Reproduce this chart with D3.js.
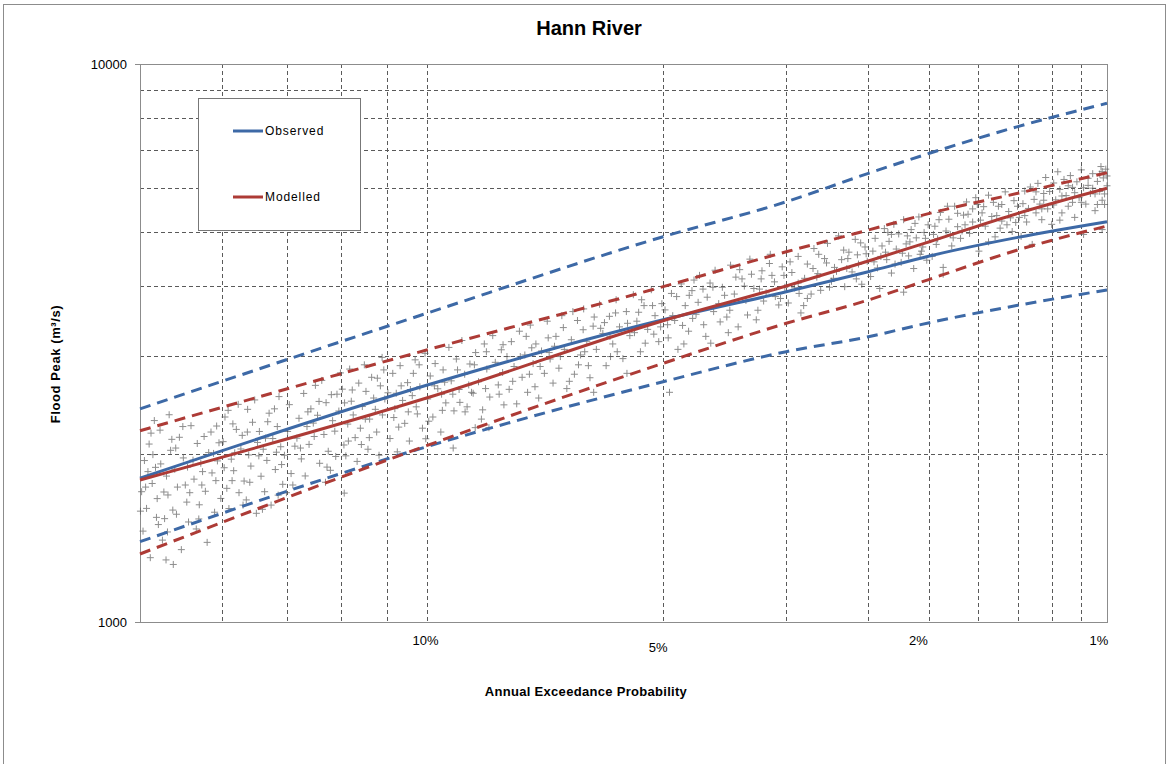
<!DOCTYPE html>
<html>
<head>
<meta charset="utf-8">
<script src="https://cdn.jsdelivr.net/npm/d3@7"></script>
<style>
body { margin: 0; background: #fff; }
svg text { font-family: "Liberation Sans", Arial, sans-serif; fill: #000; }
</style>
</head>
<body>
<svg id="chart" width="1168" height="764"></svg>
<script>
// curves are read at these average recurrence intervals (1 in N years)
var ariPts        = [5, 10, 20, 30, 40, 50, 70, 100];
var observed      = [1810, 2656, 3480, 3908, 4244, 4529, 4890, 5216];
var observedUpper = [2410, 3574, 4903, 5664, 6369, 6918, 7723, 8504];
var observedLower = [1393, 2061, 2695, 3051, 3245, 3439, 3694, 3936];
var modelled      = [1797, 2520, 3467, 4001, 4436, 4803, 5398, 5987];
var modelledUpper = [2202, 3072, 3990, 4608, 5040, 5399, 5866, 6383];
var modelledLower = [1324, 2070, 2908, 3430, 3776, 4113, 4642, 5125];

var gridAri   = [5, 6, 7, 8, 9, 10, 20, 30, 40, 50, 60, 70, 80, 90, 100];
var gridFlow  = [2000, 3000, 4000, 5000, 6000, 7000, 8000, 9000];
var aepTicks  = [10, 5, 2, 1];
var aepLabels = ["10%", "5%", "2%", "1%"];
var flowTicks = [1000, 10000];

// simulated peaks [AEP %, flow m3/s]
var scatter = [
 [19.93,1712],[19.61,2084],[19.87,1455],[19.34,1893],[19.72,1598],[19.15,2207],[19.48,1771],[18.96,1532],[19.81,1947],[19.27,1664],
 [18.71,2031],[19.05,1402],[18.88,1826],[19.56,1304],[18.43,1745],[19.39,2296],[18.62,1587],[18.19,1968],[18.82,1689],[18.35,2143],
 [17.98,1511],[18.54,1878],[17.76,1803],[18.27,1348],[17.63,2089],[18.05,1640],[17.49,1925],[17.88,2248],[17.31,1715],[17.67,1468],
 [17.18,2012],[17.42,1860],[16.95,1573],[17.09,2190],[16.84,1944],[17.55,1622],[19.66,1860],[19.22,1495],[18.77,2352],[18.11,1760],
 [17.24,1389],[16.9,1792],[19.98,1580],[19.45,1995],[18.99,1710],[18.5,2050],[17.8,1950],[17.05,1850],[16.78,2095],[18.6,1268],[18.9,1292],
 [16.62,2105],[16.48,1736],[16.55,2330],[16.31,1958],[16.4,1597],[16.12,2214],[16.22,1867],[15.95,2042],[16.05,2455],[15.83,1789],
 [15.9,2160],[15.66,1992],[15.75,1655],[15.52,2280],[15.58,1903],[15.34,2098],[15.44,2500],[15.21,1825],[15.27,2195],[15.08,1712],
 [15.13,2040],[14.92,2367],[15.0,1948],[14.79,2132],[14.85,1620],[14.63,2240],[14.7,1876],[14.51,2061],[14.57,2535],[14.38,1990],
 [14.44,1765],[16.58,1890],[16.02,1705],[15.38,1566],[14.97,2285],[14.6,1688],[16.25,2265],[15.7,2405],
 [14.27,2195],[14.15,1845],[14.21,2452],[14.02,2066],[14.09,1760],[13.88,2318],[13.95,2135],[13.72,2568],[13.8,1960],[13.61,2240],
 [13.67,1827],[13.48,2410],[13.54,2081],[13.33,2655],[13.4,2272],[13.19,1925],[13.26,2347],[13.05,2168],[13.12,2710],[12.91,2023],
 [12.98,2472],[12.77,2295],[12.84,1870],[12.63,2560],[12.7,2198],[12.52,2795],[12.57,2388],[12.41,2076],[12.46,2614],[12.29,2263],
 [12.35,1985],[12.18,2487],[12.23,2840],[12.06,2140],[12.12,2350],[11.95,2680],[12.0,1940],[11.84,2433],[11.9,2225],[11.73,2590],
 [11.78,2890],[11.62,2310],[11.67,2040],[11.5,2520],[11.56,2745],[11.41,2190],[11.45,2405],[11.3,2650],[11.34,1990],[11.2,2830],
 [11.24,2350],[12.4,1702],[13.0,1780],
 [11.08,2575],[11.02,2132],[10.94,2790],[10.88,2412],[10.81,2018],[10.73,2880],[10.66,2495],[10.6,2270],[10.52,2685],[10.47,2110],
 [10.39,2545],[10.31,2950],[10.25,2360],[10.18,2640],[10.11,2225],[10.04,3030],[9.97,2510],[9.9,2760],[9.83,2330],[9.77,2905],
 [9.7,2618],[9.62,2190],[9.56,2830],[9.49,2470],[9.41,3105],[9.35,2705],[9.28,2390],[9.22,2960],[9.15,2610],[9.08,3195],
 [9.01,2780],[8.95,2430],[8.88,2900],[8.8,2570],[8.74,3040],[8.67,2695],[8.6,2310],[8.53,3150],[8.47,2840],[8.4,2530],
 [8.33,3260],[8.27,2920],[8.2,2660],[8.13,3075],[8.07,2450],[8.0,2990],[10.7,2650],[10.2,2890],[9.6,2560],[9.0,2380],
 [8.5,2620],[8.1,2800],[9.3,2050],[10.5,2380],[8.75,2230],
 [7.95,2612],[7.9,3180],[7.84,2870],[7.78,2460],[7.72,3320],[7.66,2745],[7.6,3010],[7.54,2580],[7.48,3405],[7.42,2905],
 [7.36,3150],[7.3,2520],[7.24,3060],[7.18,2790],[7.12,3460],[7.06,2960],[7.0,2680],[6.94,3250],[6.88,2850],[6.82,3540],
 [6.77,3080],[6.72,2620],[7.5,2780],[7.1,3230],[6.85,2990],
 [6.63,3205],[6.57,2780],[6.51,3470],[6.45,3010],[6.39,3640],[6.33,3185],[6.27,2740],[6.21,3390],[6.15,3080],[6.09,3710],
 [6.03,3290],[5.97,2880],[5.91,3530],[5.85,3150],[5.79,3780],[5.73,3380],[5.67,2965],[5.61,3600],[5.55,3260],[5.49,3860],
 [5.43,3460],[5.37,3050],[5.31,3690],[5.25,3345],[5.19,3940],[5.13,3540],[5.07,3180],[5.02,3720],[6.2,2580],[5.6,2790],
 [6.4,3340],[5.9,3250],[5.4,3590],[5.15,3280],[6.0,3440],
 [4.97,3625],[4.92,3230],[4.87,3880],[4.82,3470],[4.77,3080],[4.72,4035],[4.66,3690],[4.61,3320],[4.56,3925],[4.5,3560],
 [4.45,4180],[4.39,3410],[4.34,3820],[4.29,3160],[4.23,4270],[4.18,3720],[4.13,3980],[4.07,3520],[4.02,4360],[3.97,3870],
 [3.92,3380],[3.87,4120],[3.82,3770],[3.77,4470],[3.72,3960],[3.67,3620],[3.62,4260],[3.57,3890],[3.52,4560],[3.47,4070],
 [3.42,3700],[3.38,4330],[3.35,3980],[4.9,2580],[4.85,3540],[4.6,3850],[4.4,3950],[4.25,3600],[4.1,3850],[3.95,4150],
 [3.8,3550],[3.65,3950],[3.5,4180],[3.4,3800],[4.7,3400],[4.05,3300],[3.75,4200],[4.55,3500],[4.3,4050],[3.6,3760],
 [3.31,3730],[3.27,4230],[3.24,3970],[3.2,4520],[3.17,3580],[3.13,4130],[3.1,4380],[3.06,3870],[3.03,4670],[2.99,4210],
 [2.96,3930],[2.92,4480],[2.89,4770],[2.85,4080],[2.82,4320],[2.78,4920],[2.75,4460],[2.72,3990],[2.68,4600],[2.65,4240],
 [2.62,4850],[2.59,4380],[2.56,4030],[2.53,4700],[2.51,4430],[3.2,4050],[3.0,4150],[2.8,4250],[2.6,4550],[3.1,3800],
 [2.9,4400],[2.7,4300],
 [2.48,4160],[2.46,4620],[2.44,4870],[2.42,4310],[2.4,3960],[2.38,4720],[2.36,5070],[2.34,4460],[2.32,4810],[2.3,4220],
 [2.28,5160],[2.26,4660],[2.24,4960],[2.22,4410],[2.2,5260],[2.18,4760],[2.16,4530],[2.14,5050],[2.12,4300],[2.1,4880],
 [2.08,5320],[2.06,4620],[2.04,4990],[2.02,4450],[2.01,5150],[2.2,3900],[2.35,4600],[2.15,4800],[2.05,4700],[2.3,4950],
 [1.98,4520],[1.96,5120],[1.94,4860],[1.92,5420],[1.9,4320],[1.88,5020],[1.86,5270],[1.84,4720],[1.82,5560],[1.8,5110],
 [1.78,4870],[1.76,5360],[1.74,5660],[1.72,4970],[1.7,5210],[1.68,5760],[1.66,4620],[1.64,5410],[1.62,5120],[1.6,5820],
 [1.58,5330],[1.56,4900],[1.54,5560],[1.52,5230],[1.5,5900],[1.48,5440],[1.46,5010],[1.45,5690],[1.9,4200],[1.95,4750],
 [1.85,4950],[1.75,5150],[1.65,5250],[1.55,5350],[1.47,5300],[1.6,4800],[1.8,5400],[1.7,5500],[1.52,5600],[1.44,5200],
 [1.42,5310],[1.41,4910],[1.4,5620],[1.39,5920],[1.38,5210],[1.37,5510],[1.36,6020],[1.35,4750],[1.34,5720],[1.33,5410],
 [1.32,6110],[1.31,5610],[1.3,5260],[1.29,5860],[1.28,6260],[1.27,5500],[1.26,5910],[1.25,5160],[1.24,6120],[1.23,5710],
 [1.22,6410],[1.21,5960],[1.2,5410],[1.19,6210],[1.18,5810],[1.17,5560],[1.16,6310],[1.15,6010],[1.14,5310],[1.13,6150],
 [1.12,5760],[1.11,6460],[1.1,4950],[1.09,5610],[1.08,6060],[1.07,5860],[1.06,6360],[1.05,5460],[1.04,6160],[1.03,5910],
 [1.025,6550],[1.02,5700],[1.015,6250],[1.01,5850],[1.005,6480],[1.0,6050],[1.3,5500],[1.2,5800],[1.1,6000],[1.05,5850],
 [1.15,5650],[1.02,5050],
 [19.76,1745],[19.12,1920],[18.47,1560],[17.93,1705],[17.36,2150],[16.71,1665],[16.18,2010],[15.62,1780],[15.05,2135],[14.48,1915],
 [19.53,2180],[18.84,1450],[18.21,2240],[17.57,1530],[16.99,2005],[16.43,2395],[15.87,1620],[15.29,1985],[14.73,2410],[14.31,1705],
 [19.3,1540],[18.66,2125],[18.02,1895],[17.45,1760],[16.87,2245],[16.28,1792],[15.71,2190],[15.16,1592],[14.66,2015],
 [13.83,2050],[13.21,2485],[12.67,1980],[12.15,2605],[11.63,2140],[11.17,2510],[10.77,2235],[10.36,2790],[9.94,2290],[9.52,2690],
 [9.13,2475],[8.77,2890],[8.42,2230],[8.09,3140],[13.58,2380],[12.95,1895],[12.39,2470],[11.87,2080],[11.39,2735],[10.91,2325],
 [10.44,2610],[10.02,2130],[9.58,2395],[9.19,2830],[8.84,2580],[8.48,3050],[8.18,2560],[13.37,2150],[12.81,2555],[12.27,2110],
 [11.75,2310],[11.25,2980],[10.84,2570],[10.28,2430],[9.79,2650],[9.31,2560],[8.91,2660],[8.57,2400],
 [7.87,2700],[7.57,3250],[7.27,2870],[6.97,3120],[6.67,2700],[6.37,3050],[6.07,3360],[5.77,3050],[5.47,3300],[5.17,3690],
 [7.7,2990],[7.38,2640],[7.08,3040],[6.79,3370],[6.49,2890],[6.19,3520],[5.89,2990],[5.59,3430],[5.29,3160],[5.04,3380],
 [7.45,3100],[6.6,3600],[6.3,2880],[5.8,3580],[5.35,3780],
 [4.93,3410],[4.68,3150],[4.47,3740],[4.26,3980],[4.03,3620],[3.84,4000],[3.63,4120],[3.46,3830],[3.29,4420],[3.14,3690],
 [2.98,4560],[2.83,4130],[2.69,4480],[2.57,4780],[4.79,3830],[4.53,4100],[4.36,3250],[4.16,3450],[3.9,4280],[3.69,3480],
 [3.53,4390],[3.36,4180],[3.19,3880],[3.04,4300],[2.87,3980],[2.73,4640],[2.61,4120],[2.52,4570],
 [2.45,4420],[2.33,4990],[2.21,4580],[2.11,5180],[2.03,4870],[1.93,5260],[1.83,4880],[1.73,5380],[1.63,5550],[1.53,5080],
 [1.43,5560],[1.33,5900],[1.24,5590],[1.17,6050],[1.11,5650],[1.06,5990],[1.03,6350],[1.01,5600],[2.39,4520],[2.27,4380],
 [2.17,4920],[2.07,4560],[1.97,4950],[1.87,5560],[1.77,5020],[1.67,5600],[1.57,5650],[1.49,5150],[1.39,5350],[1.29,5700],
 [1.21,5250],[1.14,5880],[1.08,6240],[1.04,5600],[1.02,6420],[1.0,6300]
];

var blue = "#3D69A6";
var red = "#AD3B36";

// inverse standard normal (Acklam)
function probit(p) {
  var a = [-3.969683028665376e+01, 2.209460984245205e+02, -2.759285104469687e+02, 1.383577518672690e+02, -3.066479806614716e+01, 2.506628277459239e+00];
  var b = [-5.447609879822406e+01, 1.615858368580409e+02, -1.556989798598866e+02, 6.680131188771972e+01, -1.328068155288572e+01];
  var c = [-7.784894002430293e-03, -3.223964580411365e-01, -2.400758277161838e+00, -2.549732539343734e+00, 4.374664141464968e+00, 2.938163982698783e+00];
  var d = [7.784695709041462e-03, 3.224671290700398e-01, 2.445134137142996e+00, 3.754408661907416e+00];
  var pl = 0.02425, q, r;
  if (p < pl) {
    q = Math.sqrt(-2 * Math.log(p));
    return (((((c[0]*q+c[1])*q+c[2])*q+c[3])*q+c[4])*q+c[5]) / ((((d[0]*q+d[1])*q+d[2])*q+d[3])*q+1);
  }
  if (p > 1 - pl) {
    q = Math.sqrt(-2 * Math.log(1 - p));
    return -(((((c[0]*q+c[1])*q+c[2])*q+c[3])*q+c[4])*q+c[5]) / ((((d[0]*q+d[1])*q+d[2])*q+d[3])*q+1);
  }
  q = p - 0.5; r = q * q;
  return (((((a[0]*r+a[1])*r+a[2])*r+a[3])*r+a[4])*r+a[5])*q / (((((b[0]*r+b[1])*r+b[2])*r+b[3])*r+b[4])*r+1);
}

var svg = d3.select("#chart");
var plotL = 140, plotR = 1107, plotT = 64, plotB = 622;

var xz = d3.scaleLinear().domain([probit(0.8), probit(0.99)]).range([plotL, plotR]);
function xA(aep) { return xz(probit(1 - aep / 100)); }
var y = d3.scaleLog().domain([1000, 10000]).range([plotB, plotT]);

// outer chart border
svg.append("rect")
   .attr("x", 3.5).attr("y", 4.5)
   .attr("width", 1162).attr("height", 780)
   .attr("fill", "none")
   .attr("stroke", "#8c8c8c");

svg.append("text")
   .attr("x", 589).attr("y", 35)
   .attr("text-anchor", "middle")
   .attr("font-size", "20px")
   .attr("font-weight", "bold")
   .text("Hann River");

// gridlines
var grid = svg.append("g")
   .attr("stroke", "#5a5a5a")
   .attr("stroke-dasharray", "4,3")
   .attr("shape-rendering", "crispEdges");

grid.selectAll(".vg")
   .data(gridAri)
   .enter().append("line")
   .attr("x1", function(d) { return Math.round(xA(100 / d)) + 0.5; })
   .attr("x2", function(d) { return Math.round(xA(100 / d)) + 0.5; })
   .attr("y1", plotT).attr("y2", plotB);

grid.selectAll(".hg")
   .data(gridFlow)
   .enter().append("line")
   .attr("x1", plotL).attr("x2", plotR)
   .attr("y1", function(d) { return Math.round(y(d)) + 0.5; })
   .attr("y2", function(d) { return Math.round(y(d)) + 0.5; });

// plot frame
svg.append("rect")
   .attr("x", plotL + 0.5).attr("y", plotT + 0.5)
   .attr("width", plotR - plotL).attr("height", plotB - plotT)
   .attr("fill", "none")
   .attr("stroke", "#8c8c8c");

// y ticks + labels
svg.selectAll(".yt")
   .data(flowTicks)
   .enter().append("line")
   .attr("x1", plotL - 5).attr("x2", plotL)
   .attr("y1", function(d) { return Math.round(y(d)) + 0.5; })
   .attr("y2", function(d) { return Math.round(y(d)) + 0.5; })
   .attr("stroke", "#8c8c8c");

svg.selectAll(".yl")
   .data(flowTicks)
   .enter().append("text")
   .attr("x", 127)
   .attr("y", function(d) { return y(d); })
   .attr("dy", "0.35em")
   .attr("text-anchor", "end")
   .attr("font-size", "13px")
   .text(function(d) { return d; });

// x labels (Excel data labels sit slightly off the gridlines)
var labelNudge = [[-1, 645], [-5, 652], [-11, 645], [-8, 645]];
svg.selectAll(".xl")
   .data(aepTicks)
   .enter().append("text")
   .attr("x", function(d, i) { return xA(d) + labelNudge[i][0]; })
   .attr("y", function(d, i) { return labelNudge[i][1]; })
   .attr("text-anchor", "middle")
   .attr("font-size", "13px")
   .text(function(d, i) { return aepLabels[i]; });

svg.append("text")
   .attr("x", 586).attr("y", 696)
   .attr("text-anchor", "middle")
   .attr("font-size", "13px")
   .attr("font-weight", "bold")
   .attr("letter-spacing", "0.3px")
   .text("Annual Exceedance Probability");

svg.append("text")
   .attr("transform", "translate(60,364) rotate(-90)")
   .attr("text-anchor", "middle")
   .attr("font-size", "13px")
   .attr("font-weight", "bold")
   .attr("letter-spacing", "0.6px")
   .text("Flood Peak (m³/s)");

// scatter
var plus = "M-3.5,0H3.5M0,-3.5V3.5";
svg.append("g")
   .selectAll("path")
   .data(scatter)
   .enter().append("path")
   .attr("transform", function(d) { return "translate(" + xA(d[0]) + "," + y(d[1]) + ")"; })
   .attr("d", plus)
   .attr("stroke", "#5e5e5e")
   .attr("stroke-width", 1)
   .attr("opacity", 0.7);

// curves
var line = d3.line()
   .x(function(d) { return xA(100 / d[0]); })
   .y(function(d) { return y(d[1]); })
   .curve(d3.curveMonotoneX);

var series = [
  { v: observedUpper, c: blue, dash: "11,7" },
  { v: observedLower, c: blue, dash: "11,7" },
  { v: modelledUpper, c: red, dash: "11,7" },
  { v: modelledLower, c: red, dash: "11,7" },
  { v: observed, c: blue, dash: null },
  { v: modelled, c: red, dash: null }
];

svg.append("g")
   .selectAll("path")
   .data(series)
   .enter().append("path")
   .attr("d", function(s) { return line(ariPts.map(function(a, i) { return [a, s.v[i]]; })); })
   .attr("fill", "none")
   .attr("stroke", function(s) { return s.c; })
   .attr("stroke-width", 3)
   .attr("stroke-dasharray", function(s) { return s.dash; });

// legend
var lg = svg.append("g");
lg.append("rect")
   .attr("x", 198.5).attr("y", 98.5)
   .attr("width", 162).attr("height", 132)
   .attr("fill", "#fff")
   .attr("stroke", "#777");

var legendItems = [["Observed", blue, 131], ["Modelled", red, 197]];
legendItems.forEach(function(it) {
  lg.append("line")
    .attr("x1", 233).attr("x2", 263)
    .attr("y1", it[2]).attr("y2", it[2])
    .attr("stroke", it[1])
    .attr("stroke-width", 3);
  lg.append("text")
    .attr("x", 265).attr("y", it[2])
    .attr("dy", "0.35em")
    .attr("font-size", "12px")
    .attr("letter-spacing", "0.9px")
    .text(it[0]);
});
</script>
</body>
</html>
